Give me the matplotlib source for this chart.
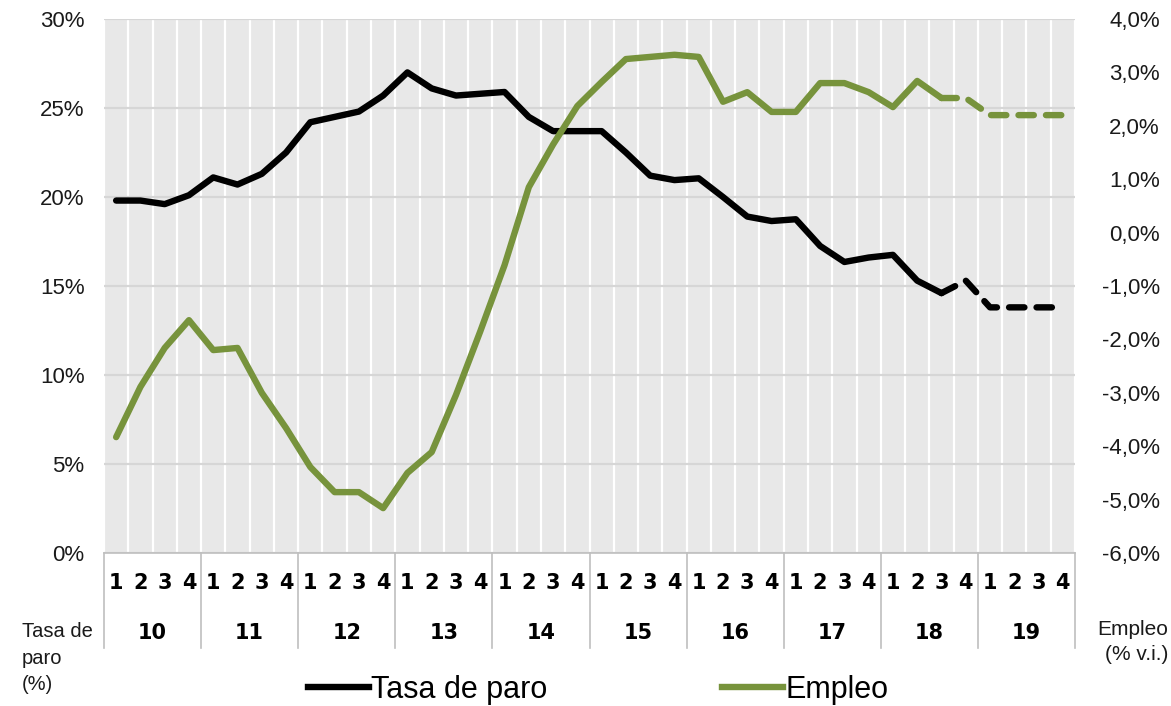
import matplotlib

matplotlib.use("Agg")
import matplotlib.pyplot as plt
from matplotlib.lines import Line2D
from matplotlib.ticker import FuncFormatter, MultipleLocator
import matplotlib.transforms as mtransforms

# Quarterly data, 2010Q1 .. 2019Q4 (40 quarters)
quarter_labels = ["1", "2", "3", "4"] * 10
year_labels = ["10", "11", "12", "13", "14", "15", "16", "17", "18", "19"]

# Tasa de paro (%), observed 2010Q1..2018Q3
paro_obs = [19.8, 19.8, 19.6, 20.1, 21.1, 20.7, 21.3, 22.5,
            24.2, 24.5, 24.8, 25.7, 27.0, 26.1, 25.7, 25.8,
            25.9, 24.5, 23.7, 23.7, 23.7, 22.5, 21.2, 20.95,
            21.05, 20.0, 18.9, 18.65, 18.75, 17.25, 16.35, 16.6,
            16.75, 15.3, 14.6]
# forecast 2018Q3..2019Q4
paro_prev = [14.6, 15.3, 13.8, 13.8, 13.8, 13.8]

# Empleo (% v.i.), observed 2010Q1..2018Q3
empleo_obs = [-3.83, -2.89, -2.16, -1.64, -2.20, -2.16, -3.0, -3.66,
              -4.39, -4.86, -4.86, -5.16, -4.50, -4.11, -3.04, -1.85,
              -0.61, 0.85, 1.65, 2.37, 2.82, 3.25, 3.29, 3.33,
              3.29, 2.45, 2.63, 2.26, 2.26, 2.80, 2.80, 2.63,
              2.35, 2.84, 2.52]
empleo_prev = [2.52, 2.52, 2.2, 2.2, 2.2, 2.2]

BLACK = "#000000"
GREEN = "#77933c"
BG = "#e8e8e8"
GRID = "#d6d6d6"
SEP = "#bfbfbf"
TEXT = "#1a1a1a"
SANS = ["Liberation Sans", "DejaVu Sans"]

W, H = 1171, 706
fig = plt.figure(figsize=(W / 100, H / 100), dpi=100)
left, right, top, bottom = 104, 1075, 19, 553
ax = fig.add_axes([left / W, 1 - bottom / H, (right - left) / W, (bottom - top) / H])
ax.set_facecolor(BG)

n = len(quarter_labels)
x_obs = list(range(len(paro_obs)))
x_prev = list(range(len(paro_obs) - 1, n))

ax.set_xlim(-0.5, n - 0.5)
ax.set_ylim(0, 30)
ax.yaxis.set_major_locator(MultipleLocator(5))
ax.yaxis.set_major_formatter(FuncFormatter(lambda v, _: f"{v:.0f}%"))
ax.set_xticks([])
ax.set_xticks([i - 0.5 for i in range(n + 1)], minor=True)
ax.grid(which="minor", axis="x", color="white", linewidth=1.6)
ax.grid(which="major", axis="y", color=GRID, linewidth=1.6)
ax.tick_params(axis="x", which="both", length=0)
ax.tick_params(axis="y", length=0, pad=14, labelsize=16, labelcolor=TEXT)
for side in ("top", "right", "left"):
    ax.spines[side].set_visible(False)
ax.spines["bottom"].set_color(SEP)
ax.spines["bottom"].set_linewidth(1.2)
ax.set_axisbelow(True)

ax2 = ax.twinx()
ax2.set_ylim(-6, 4)
ax2.yaxis.set_major_locator(MultipleLocator(1))
ax2.yaxis.set_major_formatter(FuncFormatter(lambda v, _: f"{v:.1f}%".replace(".", ",")))
# right-hand labels are right-aligned at x ~ 1160 px
ax2.tick_params(axis="y", length=0, pad=61, labelsize=16, labelcolor=TEXT)
for side in ("top", "right", "left", "bottom"):
    ax2.spines[side].set_visible(False)
for lab in ax.get_yticklabels():
    lab.set_family(SANS)
for lab in ax2.get_yticklabels():
    lab.set_family(SANS)
    lab.set_horizontalalignment("right")

lw = 4.6
dash = (2.4, 1.9)
ax.plot(x_obs, paro_obs, color=BLACK, linewidth=lw, solid_capstyle="round",
        solid_joinstyle="round", zorder=3)
ax.plot(x_prev, paro_prev, color=BLACK, linewidth=lw, dashes=dash,
        dash_capstyle="round", zorder=3)
ax2.plot(x_obs, empleo_obs, color=GREEN, linewidth=lw, solid_capstyle="round",
         solid_joinstyle="round", zorder=3)
ax2.plot(x_prev, empleo_prev, color=GREEN, linewidth=lw, dashes=dash,
         dash_capstyle="round", zorder=3)

# category axis: quarters and years
trans = mtransforms.blended_transform_factory(ax.transData, fig.transFigure)
for i, q in enumerate(quarter_labels):
    ax.text(i, 1 - 583 / H, q, transform=trans, ha="center", va="center",
            fontsize=15, fontweight="bold", family="DejaVu Sans")
for k, yr in enumerate(year_labels):
    ax.text(4 * k + 1.5, 1 - 633 / H, yr, transform=trans, ha="center", va="center",
            fontsize=15, fontweight="bold", family="DejaVu Sans")
for k in range(len(year_labels) + 1):
    xb = 4 * k - 0.5
    fig.add_artist(Line2D([xb, xb], [1 - bottom / H, 1 - 648 / H], transform=trans,
                          color=SEP, linewidth=1.2, clip_on=False))

fig.text(22 / W, 1 - 658 / H, "Tasa de\nparo\n(%)", ha="left", va="center",
         fontsize=14.5, linespacing=1.5, color=TEXT, family=SANS)
fig.text(1168 / W, 1 - 642 / H, "Empleo\n(% v.i.)", ha="right", va="center",
         fontsize=15, linespacing=1.4, color=TEXT, multialignment="right", family=SANS)

handles = [Line2D([], [], color=BLACK, linewidth=lw), Line2D([], [], color=GREEN, linewidth=lw)]
fig.legend(handles, ["Tasa de paro", "Empleo"], loc="center", ncol=2,
           bbox_to_anchor=(598 / W, 1 - 690 / H), frameon=False,
           prop={"family": SANS, "size": 22},
           handlelength=2.0, handletextpad=0.08, columnspacing=5.7)

fig.savefig("out.png", dpi=100)
